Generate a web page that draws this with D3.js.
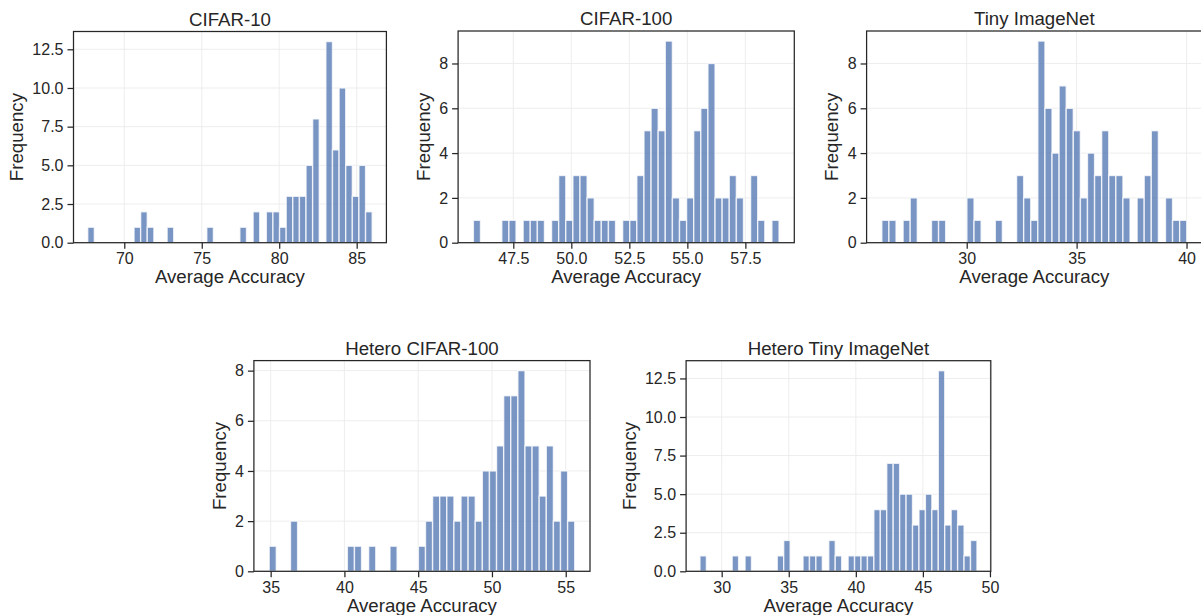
<!DOCTYPE html>
<html>
<head>
<meta charset="utf-8">
<script src="https://cdn.jsdelivr.net/npm/d3@7"></script>
<style>
  body { margin: 0; background: #fff; }
  svg { display: block; font-family: "Liberation Sans", Arial, sans-serif; }
  .tick-label { font-size: 16px; fill: #262626; }
  .axis-label { font-size: 18.67px; fill: #262626; }
  .title { font-size: 18.67px; fill: #262626; }
</style>
</head>
<body>
<svg id="chart"></svg>
<script>
const width = 1201,
  height = 615;

// histogram data, 43 equal bins per panel between binLo and binHi
const titles = ["CIFAR-10", "CIFAR-100", "Tiny ImageNet", "Hetero CIFAR-100", "Hetero Tiny ImageNet"];
const binLo = [67.64, 45.78, 26.14, 34.9, 28.38];
const binHi = [86.0, 58.95, 40.01, 55.61, 49.03];

const countsCifar10 = [1, 0, 0, 0, 0, 0, 0, 1, 2, 1, 0, 0, 1, 0, 0, 0, 0, 0, 1, 0, 0, 0, 0, 1, 0, 2, 0, 2, 2, 1, 3, 3, 3, 5, 8, 0, 13, 6, 10, 5, 3, 5, 2];
const countsCifar100 = [1, 0, 0, 0, 1, 1, 0, 1, 1, 1, 0, 1, 3, 1, 3, 3, 2, 1, 1, 1, 0, 1, 1, 3, 5, 6, 5, 9, 2, 1, 2, 5, 6, 8, 2, 2, 3, 2, 0, 3, 1, 0, 1];
const countsTiny = [1, 1, 0, 1, 2, 0, 0, 1, 1, 0, 0, 0, 2, 1, 0, 0, 1, 0, 0, 3, 2, 1, 9, 6, 4, 7, 6, 5, 2, 4, 3, 5, 3, 3, 2, 0, 2, 3, 5, 0, 2, 1, 1];
const countsHeteroCifar100 = [1, 0, 0, 2, 0, 0, 0, 0, 0, 0, 0, 1, 1, 0, 1, 0, 0, 1, 0, 0, 0, 1, 2, 3, 3, 3, 2, 3, 3, 2, 4, 4, 5, 7, 7, 8, 5, 5, 3, 5, 2, 4, 2];
const countsHeteroTiny = [1, 0, 0, 0, 0, 1, 0, 1, 0, 0, 0, 0, 1, 2, 0, 0, 1, 1, 1, 0, 2, 1, 0, 1, 1, 1, 1, 4, 4, 7, 7, 5, 5, 3, 4, 5, 4, 13, 3, 4, 3, 1, 2];
const allCounts = [countsCifar10, countsCifar100, countsTiny, countsHeteroCifar100, countsHeteroTiny];

const xTicks = [
  [70, 75, 80, 85],
  [47.5, 50, 52.5, 55, 57.5],
  [30, 35, 40],
  [35, 40, 45, 50, 55],
  [30, 35, 40, 45, 50],
];
const xTickLabels = [
  ["70", "75", "80", "85"],
  ["47.5", "50.0", "52.5", "55.0", "57.5"],
  ["30", "35", "40"],
  ["35", "40", "45", "50", "55"],
  ["30", "35", "40", "45", "50"],
];
const yTicks = [
  [0, 2.5, 5, 7.5, 10, 12.5],
  [0, 2, 4, 6, 8],
  [0, 2, 4, 6, 8],
  [0, 2, 4, 6, 8],
  [0, 2.5, 5, 7.5, 10, 12.5],
];
const yTickLabels = [
  ["0.0", "2.5", "5.0", "7.5", "10.0", "12.5"],
  ["0", "2", "4", "6", "8"],
  ["0", "2", "4", "6", "8"],
  ["0", "2", "4", "6", "8"],
  ["0.0", "2.5", "5.0", "7.5", "10.0", "12.5"],
];

// plot boxes (left, right, top, bottom)
const boxes = [
  [73.5, 386.4, 31.5, 242.7],
  [458.1, 794.3, 31, 242.7],
  [866.6, 1202, 31, 242.7],
  [253.9, 590, 360.6, 571.3],
  [686.1, 990.8, 360.7, 571.3],
];

const barColor = "rgb(76,114,176)",
  inkColor = "#262626",
  gridColor = "#ebebeb",
  tickLength = 6;

var svg = d3.select("#chart").attr("width", width).attr("height", height);

for (var p = 0; p < titles.length; p++) {
  drawPanel(p);
}

function drawPanel(p) {
  var box = boxes[p];
  var counts = allCounts[p];
  var lo = binLo[p],
    hi = binHi[p];
  var binWidth = (hi - lo) / counts.length;
  var pad = (hi - lo) * 0.05;

  var x = d3.scaleLinear().domain([lo - pad, hi + pad]).range([box[0], box[1]]);
  var y = d3
    .scaleLinear()
    .domain([0, d3.max(counts) * 1.05])
    .range([box[3], box[2]]);

  var g = svg.append("g").attr("class", "panel-" + p);

  // grid
  g.append("g")
    .selectAll("line")
    .data(xTicks[p])
    .enter()
    .append("line")
    .attr("x1", (d) => x(d))
    .attr("x2", (d) => x(d))
    .attr("y1", box[2])
    .attr("y2", box[3])
    .attr("stroke", gridColor)
    .attr("stroke-width", 0.9);
  g.append("g")
    .selectAll("line")
    .data(yTicks[p])
    .enter()
    .append("line")
    .attr("x1", box[0])
    .attr("x2", box[1])
    .attr("y1", (d) => y(d))
    .attr("y2", (d) => y(d))
    .attr("stroke", gridColor)
    .attr("stroke-width", 0.9);

  // bars
  var bins = counts.map(function (c, i) {
    return { x0: lo + i * binWidth, x1: lo + (i + 1) * binWidth, count: c };
  });
  g.append("g")
    .selectAll("rect")
    .data(bins.filter((d) => d.count > 0))
    .enter()
    .append("rect")
    .attr("x", (d) => x(d.x0))
    .attr("width", (d) => x(d.x1) - x(d.x0))
    .attr("y", (d) => y(d.count))
    .attr("height", (d) => y(0) - y(d.count))
    .attr("fill", barColor)
    .attr("fill-opacity", 0.75)
    .attr("stroke", "white")
    .attr("stroke-opacity", 0.75)
    .attr("stroke-width", 1.4);

  // axes
  var xAxis = d3
    .axisBottom(x)
    .tickValues(xTicks[p])
    .tickFormat((d, i) => xTickLabels[p][i])
    .tickSize(tickLength)
    .tickPadding(4);
  var yAxis = d3
    .axisLeft(y)
    .tickValues(yTicks[p])
    .tickFormat((d, i) => yTickLabels[p][i])
    .tickSize(tickLength)
    .tickPadding(4);

  var gx = g.append("g").attr("transform", "translate(0," + box[3] + ")").call(xAxis);
  var gy = g.append("g").attr("transform", "translate(" + box[0] + ",0)").call(yAxis);
  [gx, gy].forEach(function (a) {
    a.select(".domain").remove();
    a.selectAll(".tick line").attr("stroke", inkColor).attr("stroke-width", 1.25);
    a.selectAll(".tick text")
      .attr("class", "tick-label")
      .attr("fill", inkColor)
      .style("font-size", "16px")
      .style("font-family", "Liberation Sans, Arial, sans-serif");
  });

  // frame
  g.append("rect")
    .attr("x", box[0])
    .attr("y", box[2])
    .attr("width", box[1] - box[0])
    .attr("height", box[3] - box[2])
    .attr("fill", "none")
    .attr("stroke", inkColor)
    .attr("stroke-width", 1.25);

  // title
  g.append("text")
    .attr("class", "title")
    .attr("x", (box[0] + box[1]) / 2)
    .attr("y", box[2] - 6)
    .attr("text-anchor", "middle")
    .text(titles[p]);

  // x label
  g.append("text")
    .attr("class", "axis-label")
    .attr("x", (box[0] + box[1]) / 2)
    .attr("y", box[3] + 40.5)
    .attr("text-anchor", "middle")
    .text("Average Accuracy");

  // y label, placed left of the widest tick label
  var maxLabel = 0;
  gy.selectAll(".tick text").each(function () {
    maxLabel = Math.max(maxLabel, this.getComputedTextLength());
  });
  var labelX = box[0] - tickLength - 4 - maxLabel - 9.3;
  g.append("text")
    .attr("class", "axis-label")
    .attr("transform", "translate(" + labelX + "," + (box[2] + box[3]) / 2 + ") rotate(-90)")
    .attr("text-anchor", "middle")
    .text("Frequency");
}
</script>
</body>
</html>
